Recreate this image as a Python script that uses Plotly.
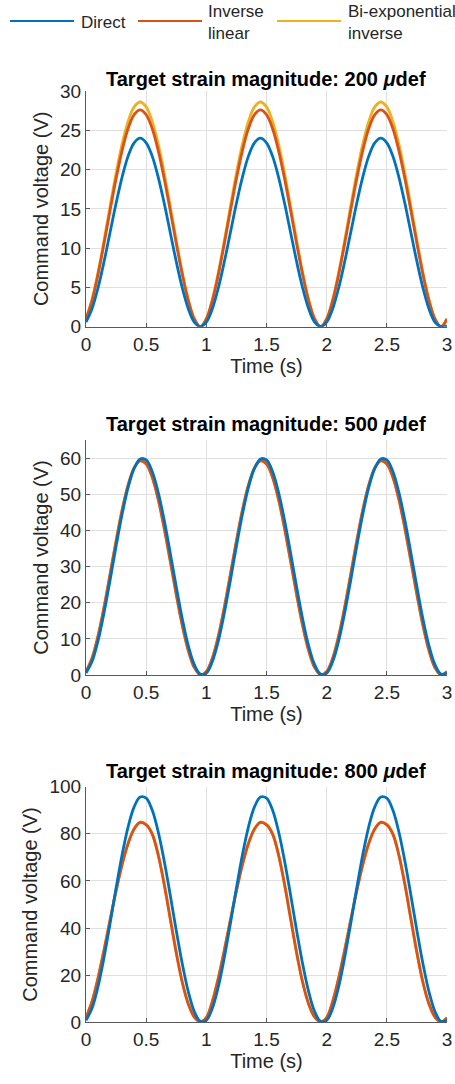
import plotly.graph_objects as go

# Sample times (s)
time_s = [0.00, 0.05, 0.10, 0.15, 0.20, 0.25, 0.30, 0.35, 0.40, 0.45,
          0.50, 0.55, 0.60, 0.65, 0.70, 0.75, 0.80, 0.85, 0.90, 0.95,
          1.00, 1.05, 1.10, 1.15, 1.20, 1.25, 1.30, 1.35, 1.40, 1.45,
          1.50, 1.55, 1.60, 1.65, 1.70, 1.75, 1.80, 1.85, 1.90, 1.95,
          2.00, 2.05, 2.10, 2.15, 2.20, 2.25, 2.30, 2.35, 2.40, 2.45,
          2.50, 2.55, 2.60, 2.65, 2.70, 2.75, 2.80, 2.85, 2.90, 2.95,
          3.00]

# ---- 200 microstrain ----
direct_200 = [0.59, 2.29, 4.95, 8.29, 12.0, 15.71, 19.05, 21.71, 23.41, 24.0,
              23.41, 21.71, 19.05, 15.71, 12.0, 8.29, 4.95, 2.29, 0.59, 0.0,
              0.59, 2.29, 4.95, 8.29, 12.0, 15.71, 19.05, 21.71, 23.41, 24.0,
              23.41, 21.71, 19.05, 15.71, 12.0, 8.29, 4.95, 2.29, 0.59, 0.0,
              0.59, 2.29, 4.95, 8.29, 12.0, 15.71, 19.05, 21.71, 23.41, 24.0,
              23.41, 21.71, 19.05, 15.71, 12.0, 8.29, 4.95, 2.29, 0.59, 0.0,
              0.1]
invlin_200 = [0.98, 3.33, 6.66, 10.60, 14.79, 18.85, 22.42, 25.22, 26.99, 27.6,
              26.99, 25.22, 22.42, 18.85, 14.79, 10.60, 6.66, 3.33, 0.98, 0.0,
              0.98, 3.33, 6.66, 10.60, 14.79, 18.85, 22.42, 25.22, 26.99, 27.6,
              26.99, 25.22, 22.42, 18.85, 14.79, 10.60, 6.66, 3.33, 0.98, 0.0,
              0.98, 3.33, 6.66, 10.60, 14.79, 18.85, 22.42, 25.22, 26.99, 27.6,
              26.99, 25.22, 22.42, 18.85, 14.79, 10.60, 6.66, 3.33, 0.98, 0.0,
              0.98]
biexp_200 = [1.02, 3.45, 6.90, 10.99, 15.33, 19.53, 23.23, 26.13, 27.97, 28.6,
             27.97, 26.13, 23.23, 19.53, 15.33, 10.99, 6.90, 3.45, 1.02, 0.0,
             1.02, 3.45, 6.90, 10.99, 15.33, 19.53, 23.23, 26.13, 27.97, 28.6,
             27.97, 26.13, 23.23, 19.53, 15.33, 10.99, 6.90, 3.45, 1.02, 0.0,
             1.02, 3.45, 6.90, 10.99, 15.33, 19.53, 23.23, 26.13, 27.97, 28.6,
             27.97, 26.13, 23.23, 19.53, 15.33, 10.99, 6.90, 3.45, 1.02, 0.0,
             1.02]

# ---- 500 microstrain ----
direct_500 = [0.53, 3.71, 9.46, 17.23, 26.24, 35.62, 44.45, 51.87, 57.14, 59.76,
              59.47, 56.29, 50.54, 42.77, 33.76, 24.38, 15.55, 8.13, 2.86, 0.24,
              0.53, 3.71, 9.46, 17.23, 26.24, 35.62, 44.45, 51.87, 57.14, 59.76,
              59.47, 56.29, 50.54, 42.77, 33.76, 24.38, 15.55, 8.13, 2.86, 0.24,
              0.53, 3.71, 9.46, 17.23, 26.24, 35.62, 44.45, 51.87, 57.14, 59.76,
              59.47, 56.29, 50.54, 42.77, 33.76, 24.38, 15.55, 8.13, 2.86, 0.24,
              0.53]
invlin_500 = [0.93, 4.62, 10.75, 18.74, 27.79, 37.02, 45.54, 52.50, 57.22, 59.24,
              58.37, 54.68, 48.55, 40.56, 31.51, 22.28, 13.76, 6.80, 2.08, 0.06,
              0.93, 4.62, 10.75, 18.74, 27.79, 37.02, 45.54, 52.50, 57.22, 59.24,
              58.37, 54.68, 48.55, 40.56, 31.51, 22.28, 13.76, 6.80, 2.08, 0.06,
              0.93, 4.62, 10.75, 18.74, 27.79, 37.02, 45.54, 52.50, 57.22, 59.24,
              58.37, 54.68, 48.55, 40.56, 31.51, 22.28, 13.76, 6.80, 2.08, 0.06,
              0.93]
biexp_500 = [0.95, 4.66, 10.82, 18.84, 27.90, 37.13, 45.65, 52.60, 57.33, 59.40,
             58.55, 54.86, 48.70, 40.68, 31.60, 22.36, 13.82, 6.84, 2.10, 0.07,
             0.95, 4.66, 10.82, 18.84, 27.90, 37.13, 45.65, 52.60, 57.33, 59.40,
             58.55, 54.86, 48.70, 40.68, 31.60, 22.36, 13.82, 6.84, 2.10, 0.07,
             0.95, 4.66, 10.82, 18.84, 27.90, 37.13, 45.65, 52.60, 57.33, 59.40,
             58.55, 54.86, 48.70, 40.68, 31.60, 22.36, 13.82, 6.84, 2.10, 0.07,
             0.95]

# ---- 800 microstrain ----
direct_800 = [0.85, 5.94, 15.14, 27.56, 41.98, 56.99, 71.12, 82.99, 91.43, 95.62,
              95.15, 90.06, 80.86, 68.44, 54.02, 39.01, 24.88, 13.01, 4.57, 0.38,
              0.85, 5.94, 15.14, 27.56, 41.98, 56.99, 71.12, 82.99, 91.43, 95.62,
              95.15, 90.06, 80.86, 68.44, 54.02, 39.01, 24.88, 13.01, 4.57, 0.38,
              0.85, 5.94, 15.14, 27.56, 41.98, 56.99, 71.12, 82.99, 91.43, 95.62,
              95.15, 90.06, 80.86, 68.44, 54.02, 39.01, 24.88, 13.01, 4.57, 0.38,
              0.85]
invlin_800 = [1.99, 8.82, 18.79, 30.67, 43.36, 55.77, 66.90, 75.88, 82.02, 84.84,
              83.80, 79.90, 71.00, 58.50, 44.00, 29.50, 17.00, 7.80, 2.20, 0.15,
              1.99, 8.82, 18.79, 30.67, 43.36, 55.77, 66.90, 75.88, 82.02, 84.84,
              83.80, 79.90, 71.00, 58.50, 44.00, 29.50, 17.00, 7.80, 2.20, 0.15,
              1.99, 8.82, 18.79, 30.67, 43.36, 55.77, 66.90, 75.88, 82.02, 84.84,
              83.80, 79.90, 71.00, 58.50, 44.00, 29.50, 17.00, 7.80, 2.20, 0.15,
              1.99]
biexp_800 = [2.02, 8.90, 18.90, 30.80, 43.50, 55.90, 67.00, 76.00, 82.20, 85.00,
             84.00, 80.10, 71.20, 58.70, 44.20, 29.70, 17.10, 7.90, 2.25, 0.16,
             2.02, 8.90, 18.90, 30.80, 43.50, 55.90, 67.00, 76.00, 82.20, 85.00,
             84.00, 80.10, 71.20, 58.70, 44.20, 29.70, 17.10, 7.90, 2.25, 0.16,
             2.02, 8.90, 18.90, 30.80, 43.50, 55.90, 67.00, 76.00, 82.20, 85.00,
             84.00, 80.10, 71.20, 58.70, 44.20, 29.70, 17.10, 7.90, 2.25, 0.16,
             2.02]

panel_titles = ["200", "500", "800"]
y_ranges = [[0, 30], [0, 65], [0, 100]]
y_ticks = [[0, 5, 10, 15, 20, 25, 30],
           [0, 10, 20, 30, 40, 50, 60],
           [0, 20, 40, 60, 80, 100]]
x_ticks = [0, 0.5, 1, 1.5, 2, 2.5, 3]
x_ticktext = ["0", "0.5", "1", "1.5", "2", "2.5", "3"]

series_names = ["Direct", "Inverse linear", "Bi-exponential inverse"]
series_colors = ["#0072BD", "#D95319", "#EDB120"]

panels = [
    (direct_200, invlin_200, biexp_200),
    (direct_500, invlin_500, biexp_500),
    (direct_800, invlin_800, biexp_800),
]

W, H = 455, 1084
FONT = "Arial, Liberation Sans, Helvetica, sans-serif"
TXT = "#262626"
AXC = "#595959"
GRID = "#e0e0e0"

x_dom = [86 / W, 447 / W]
# plot-area top/bottom in pixels for each panel
y_px = [(91, 326.7), (440, 675), (786.7, 1022.3)]
title_px = [79, 424, 771]

fig = go.Figure()

for i, (d, il, be) in enumerate(panels):
    suffix = "" if i == 0 else str(i + 1)
    # drawing order: bi-exponential, inverse linear, direct (on top)
    for vals, k in ((be, 2), (il, 1), (d, 0)):
        fig.add_trace(go.Scatter(
            x=time_s, y=vals, mode="lines", name=series_names[k],
            line=dict(color=series_colors[k], width=2.8, shape="spline", smoothing=1.0),
            xaxis="x" + suffix, yaxis="y" + suffix, showlegend=False,
        ))

    top, bot = y_px[i]
    fig.update_layout(**{
        "xaxis" + suffix: dict(
            domain=x_dom, range=[0, 3], anchor="y" + suffix, automargin=False,
            tickmode="array", tickvals=x_ticks, ticktext=x_ticktext,
            showgrid=True, gridcolor=GRID, gridwidth=1, zeroline=False,
            showline=True, linecolor=AXC, linewidth=1,
            ticks="inside", ticklen=4, tickcolor=AXC,
            tickfont=dict(family=FONT, size=19, color=TXT),
            title=dict(text="Time (s)", font=dict(family=FONT, size=20, color=TXT), standoff=4),
        ),
        "yaxis" + suffix: dict(
            domain=[1 - bot / H, 1 - top / H], range=y_ranges[i], anchor="x" + suffix,
            automargin=False,
            tickmode="array", tickvals=y_ticks[i],
            showgrid=True, gridcolor=GRID, gridwidth=1, zeroline=False,
            showline=True, linecolor=AXC, linewidth=1,
            ticks="inside", ticklen=4, tickcolor=AXC,
            tickfont=dict(family=FONT, size=19, color=TXT),
            title=dict(text="Command voltage (V)", font=dict(family=FONT, size=20, color=TXT), standoff=6),
        ),
    })
    fig.add_annotation(
        xref="paper", yref="paper", x=(x_dom[0] + x_dom[1]) / 2, y=1 - title_px[i] / H,
        xanchor="center", yanchor="middle", showarrow=False,
        text="<b>Target strain magnitude: " + panel_titles[i] + " <i>μ</i>def</b>",
        font=dict(family=FONT, size=20, color="#000000"),
    )

# legend drawn along the top edge
legend_line_px = [(10, 74), (138, 202), (277, 341)]
legend_text_px = [79, 206, 346]
legend_labels = ["Direct", "Inverse<br>linear", "Bi-exponential<br>inverse"]
legend_y = 1 - 21 / H
for k in range(3):
    x0, x1 = legend_line_px[k]
    fig.add_shape(type="line", xref="paper", yref="paper",
                  x0=x0 / W, x1=x1 / W, y0=legend_y, y1=legend_y,
                  line=dict(color=series_colors[k], width=2.2))
    fig.add_annotation(
        xref="paper", yref="paper", x=legend_text_px[k] / W, y=1 - 22.5 / H,
        xanchor="left", yanchor="middle", align="left", showarrow=False,
        text=legend_labels[k], font=dict(family=FONT, size=17, color=TXT),
    )

fig.update_layout(
    width=W, height=H, margin=dict(l=0, r=0, t=0, b=0),
    paper_bgcolor="white", plot_bgcolor="white", showlegend=False,
)

fig.write_html("out.html")
